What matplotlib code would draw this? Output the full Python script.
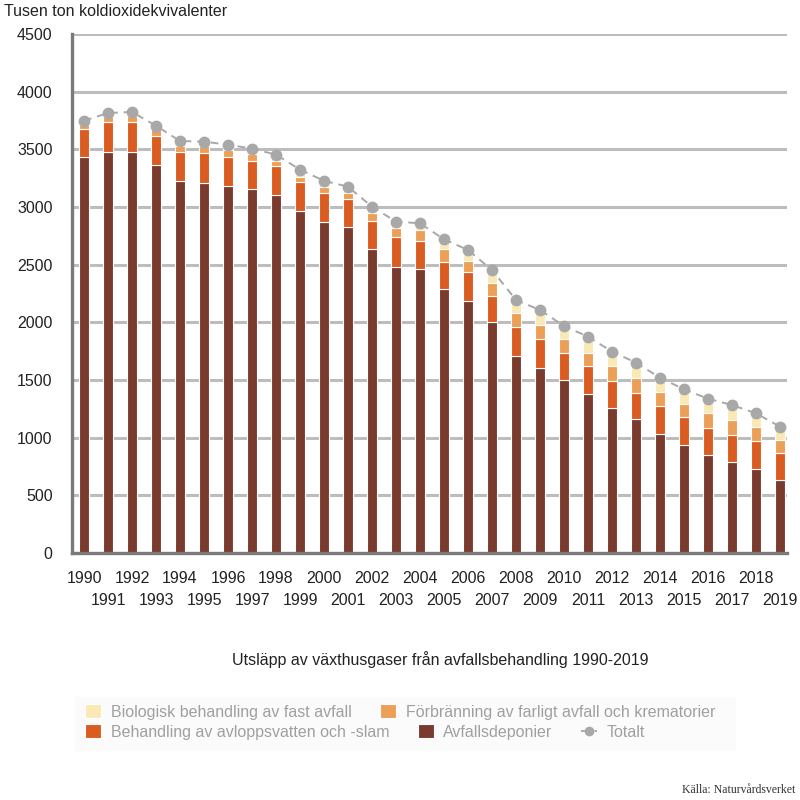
import matplotlib
matplotlib.use('agg')
import matplotlib.pyplot as plt
from matplotlib.patches import Rectangle
from matplotlib.lines import Line2D

plt.rcParams['font.family'] = ['Liberation Sans', 'DejaVu Sans']

years = list(range(1990, 2020))

# Tusen ton koldioxidekvivalenter
deponier = [3431, 3474, 3474, 3362, 3223, 3205, 3185, 3153, 3101, 2963,
            2873, 2824, 2633, 2477, 2460, 2286, 2188, 2006, 1711, 1607,
            1500, 1379, 1255, 1159, 1035, 939, 847, 792, 731, 630]
avlopp = [248, 266, 266, 256, 257, 266, 252, 249, 257, 256,
          251, 243, 248, 260, 243, 240, 251, 225, 246, 246,
          237, 245, 239, 231, 242, 238, 234, 229, 237, 234]
forbranning = [35, 43, 49, 56, 52, 55, 57, 58, 44, 41,
               46, 52, 64, 78, 98, 107, 96, 107, 121, 121,
               116, 107, 130, 130, 122, 112, 130, 132, 122, 116]
biologisk = [34, 32, 35, 31, 40, 41, 46, 46, 52, 64,
             57, 57, 58, 58, 58, 87, 92, 116, 116, 133,
             115, 145, 122, 130, 121, 130, 127, 130, 121, 115]

totalt = [d + a + f + b for d, a, f, b in zip(deponier, avlopp, forbranning, biologisk)]

c_bio = '#FBE9B5'
c_forb = '#EB9F57'
c_avl = '#DB5C20'
c_dep = '#7A3A2D'
c_tot = '#A8A8A8'

fig = plt.figure(figsize=(8, 8), dpi=100)
ax = fig.add_axes([0.09, 1 - 553 / 800, 0.894, (553 - 34) / 800])

x = list(range(len(years)))
w = 0.38
bottom1 = deponier
bottom2 = [d + a for d, a in zip(deponier, avlopp)]
bottom3 = [b + f for b, f in zip(bottom2, forbranning)]

h_dep = ax.bar(x, deponier, w, color=c_dep, edgecolor='white', linewidth=0.8, zorder=3)
h_avl = ax.bar(x, avlopp, w, bottom=bottom1, color=c_avl, edgecolor='white', linewidth=0.8, zorder=3)
h_forb = ax.bar(x, forbranning, w, bottom=bottom2, color=c_forb, edgecolor='white', linewidth=0.8, zorder=3)
h_bio = ax.bar(x, biologisk, w, bottom=bottom3, color=c_bio, edgecolor='white', linewidth=0.8, zorder=3)
ax.plot(x, totalt, color=c_tot, linestyle=(0, (4, 3)), linewidth=1.4,
        marker='o', markersize=8.5, markeredgewidth=0, zorder=4)

ax.set_ylim(0, 4500)
ax.set_xlim(-0.5, 29.3)
ax.set_yticks(range(0, 4501, 500))
ax.grid(axis='y', color='#BDBDBD', linewidth=2.2, zorder=0)
ax.set_axisbelow(True)

for s in ['top', 'right']:
    ax.spines[s].set_visible(False)
for s in ['left', 'bottom']:
    ax.spines[s].set_color('#7A7A7A')
    ax.spines[s].set_linewidth(2.4)
    ax.spines[s].set_zorder(5)

even = [i for i in x if years[i] % 2 == 0]
odd = [i for i in x if years[i] % 2 == 1]
ax.set_xticks(even, [str(years[i]) for i in even])
ax.set_xticks(odd, [str(years[i]) for i in odd], minor=True)
ax.tick_params(axis='x', which='major', length=0, pad=13, labelsize=11.5, labelcolor='#222222')
ax.tick_params(axis='x', which='minor', length=0, pad=29, labelsize=11.5, labelcolor='#222222')
ax.tick_params(axis='y', length=0, pad=14, labelsize=11.5, labelcolor='#222222')

fig.text(0.005, 0.985, 'Tusen ton koldioxidekvivalenter', fontsize=11.5,
         color='#222222', va='center', ha='left')
fig.text(0.55, 1 - 660 / 800, 'Utsläpp av växthusgaser från avfallsbehandling 1990-2019',
         fontsize=11.5, color='#222222', ha='center', va='center')

# legend background
fig.patches.append(Rectangle((75 / 800, 1 - 750 / 800), 660 / 800, 53 / 800,
                             transform=fig.transFigure, color='#FBFBFB', zorder=0))

h_tot = Line2D([], [], color=c_tot, linestyle=(0, (2, 1.5)), linewidth=1.4,
               marker='o', markersize=7, markeredgewidth=0)
leg_kw = dict(frameon=False, fontsize=11.5, labelcolor='#A0A0A0', handlelength=1.0,
              handleheight=0.9, handletextpad=0.6, columnspacing=1.8,
              borderaxespad=0, borderpad=0, loc='center left')
leg1 = fig.legend([h_bio, h_forb], ['Biologisk behandling av fast avfall',
                                    'Förbränning av farligt avfall och krematorier'],
                  ncol=2, bbox_to_anchor=(85 / 800, 1 - 712 / 800), **leg_kw)
leg2 = fig.legend([h_avl, h_dep, h_tot], ['Behandling av avloppsvatten och -slam',
                                          'Avfallsdeponier', 'Totalt'],
                  ncol=3, bbox_to_anchor=(85 / 800, 1 - 732 / 800), **leg_kw)

fig.text(0.994, 1 - 790 / 800, 'Källa: Naturvårdsverket', fontsize=8.5,
         family=['Liberation Serif', 'DejaVu Serif'], color='#333333',
         ha='right', va='center')

fig.savefig('out.png', dpi=100)
